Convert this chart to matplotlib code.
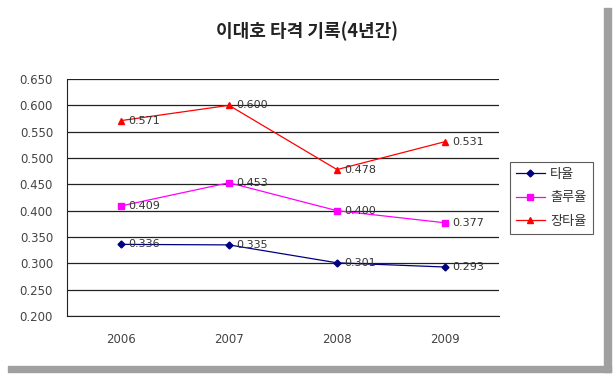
import matplotlib.pyplot as plt
from matplotlib.patches import Rectangle

plt.rcParams['font.family'] = ['Noto Sans CJK KR', 'DejaVu Sans']

years = ['2006', '2007', '2008', '2009']
avg = [0.336, 0.335, 0.301, 0.293]      # 타율
obp = [0.409, 0.453, 0.400, 0.377]      # 출루율
slg = [0.571, 0.600, 0.478, 0.531]      # 장타율
series_names = ['타율', '출루율', '장타율']
yticks = [0.200, 0.250, 0.300, 0.350, 0.400, 0.450, 0.500, 0.550, 0.600, 0.650]

fig = plt.figure(figsize=(6.14, 3.76), dpi=100)
ax = fig.add_axes([67 / 614, 1 - 316 / 376, 432 / 614, 237 / 376])

x = range(len(years))
styles = [('#000080', 'D', 3.5), ('#FF00FF', 's', 4.5), ('#FF0000', '^', 5)]
for vals, name, (col, mk, ms) in zip([avg, obp, slg], series_names, styles):
    ax.plot(x, vals, color=col, marker=mk, markersize=ms, linewidth=0.9, label=name)
    for xi, v in zip(x, vals):
        ax.annotate('%.3f' % v, (xi, v), xytext=(5, 0), textcoords='offset points',
                    ha='left', va='center', fontsize=8, color='#333333',
                    family=['DejaVu Sans'])

ax.set_xlim(-0.5, 3.5)
ax.set_ylim(0.2, 0.65)
ax.set_yticks(yticks)
ax.set_yticklabels(['%.3f' % t for t in yticks])
ax.set_xticks(list(x))
ax.set_xticklabels(years)
ax.yaxis.grid(True, color='#222222', linewidth=0.9)
ax.set_axisbelow(True)
for s in ['top', 'right']:
    ax.spines[s].set_visible(False)
for s in ['left', 'bottom']:
    ax.spines[s].set_color('#222222')
ax.tick_params(length=0, labelsize=8.5, labelcolor='#444444', pad=10)
ax.tick_params(axis='x', pad=12)
for lbl in ax.get_xticklabels() + ax.get_yticklabels():
    lbl.set_family(['DejaVu Sans'])

leg = fig.legend(loc='upper left', bbox_to_anchor=(510 / 614, 1 - 162 / 376),
                 borderaxespad=0, frameon=True, fancybox=False, fontsize=9.5,
                 handlelength=2.2, borderpad=0.45, labelspacing=0.8,
                 handletextpad=0.4)
leg.get_frame().set_edgecolor('#333333')
leg.get_frame().set_linewidth(0.8)
for t in leg.get_texts():
    t.set_color('#333333')

fig.text(307 / 614, 1 - 31 / 376, '이대호 타격 기록(4년간)', ha='center', va='center',
         fontsize=13, fontweight='bold', color='#222222')

# frame shadow
fig.patches.append(Rectangle((604 / 614, 4 / 376), 7 / 614, 364 / 376,
                             transform=fig.transFigure, color='#a0a0a0', zorder=0))
fig.patches.append(Rectangle((8 / 614, 4 / 376), 603 / 614, 6 / 376,
                             transform=fig.transFigure, color='#a0a0a0', zorder=0))

fig.savefig('out.png', dpi=100)
